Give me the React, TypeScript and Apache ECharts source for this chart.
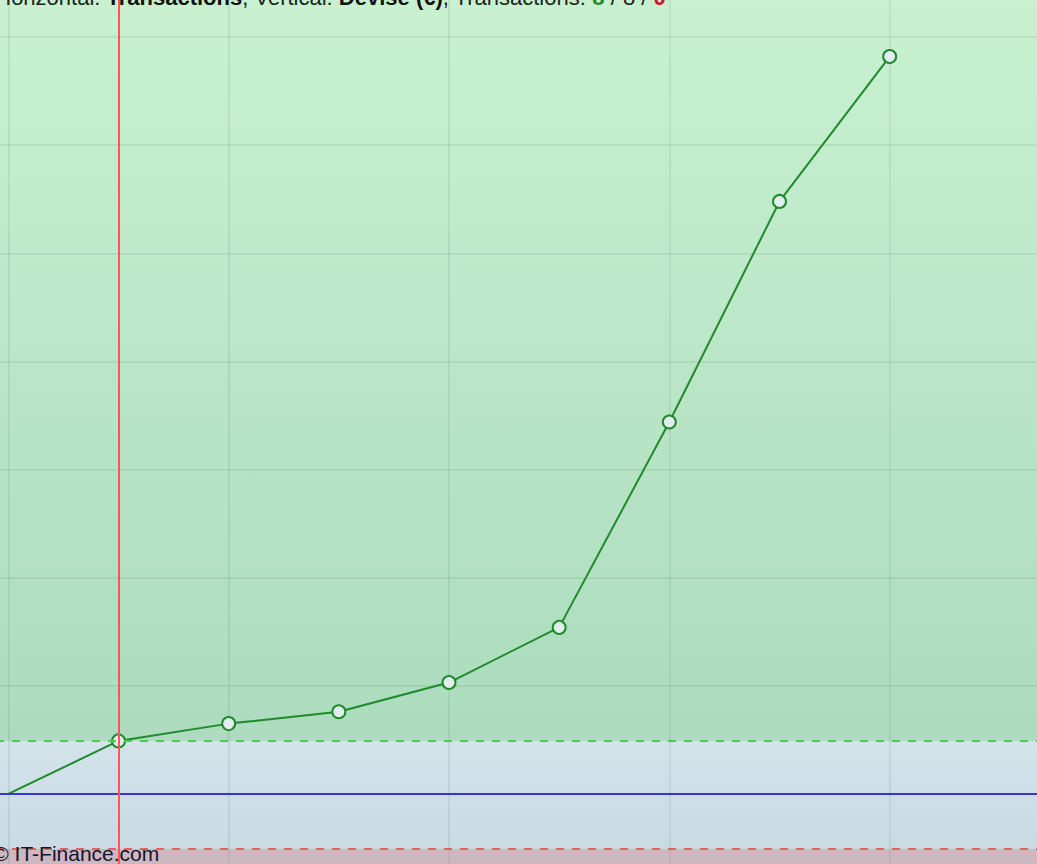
import React, { useEffect, useRef } from "react";
import * as echarts from "echarts";

const transactions = [0, 1, 2, 3, 4, 5, 6, 7, 8];
const balance = [0, 49, 65, 76, 103, 154, 344, 548, 682];
const upperLimit = 49;
const lowerLimit = -51;
const zeroLevel = 0;
const markerTransaction = 1;
const titleParts = ["Horizontal: ", "Transactions", ", Vertical: ", "Devise (€)", ", Transactions: ", "8", " / 8 / ", "0"];
const footer = "© IT-Finance.com";

// the visible window is a crop of a larger plot
const OFF_L = 212.25;
const OFF_R = 72.25;
const OFF_T = 70.8;
const OFF_B = 38.1;
const W = 1037;
const H = 864;

export default function App() {
  const ref = useRef<HTMLDivElement>(null);
  useEffect(() => {
    document.body.style.margin = "0";
    const chart = echarts.init(ref.current!, null, { renderer: "svg" });
    const font = "Arial, 'Liberation Sans', sans-serif";
    const grad = (a: string, b: string) =>
      new echarts.graphic.LinearGradient(0, 0, 0, 1, [
        { offset: 0, color: a },
        { offset: 1, color: b },
      ]);
    const fs = 22;
    chart.setOption({
      animation: false,
      grid: { left: 0, right: 0, top: 0, bottom: 0 },
      xAxis: {
        type: "value",
        min: -2,
        max: 10,
        interval: 2,
        axisLine: { show: false },
        axisTick: { show: false },
        axisLabel: { show: false },
        splitLine: { show: true, lineStyle: { color: "rgba(90,120,100,0.16)", width: 1.5 } },
      },
      yAxis: {
        type: "value",
        min: -100,
        max: 800,
        interval: 100,
        axisLine: { show: false },
        axisTick: { show: false },
        axisLabel: { show: false },
        splitLine: { show: true, lineStyle: { color: "rgba(90,120,100,0.16)", width: 1.5 } },
      },
      series: [
        {
          type: "line",
          z: -5,
          silent: true,
          symbol: "none",
          lineStyle: { opacity: 0 },
          data: transactions.map((t, i) => [t, balance[i]]),
          markArea: {
            silent: true,
            z: -10,
            data: [
              [
                { yAxis: 800, itemStyle: { color: grad("#cbf3d2", "#acdbbe") } },
                { yAxis: upperLimit },
              ],
              [
                { yAxis: upperLimit, itemStyle: { color: grad("#d2e3ea", "#c9dae3") } },
                { yAxis: lowerLimit },
              ],
              [
                { yAxis: lowerLimit, itemStyle: { color: "#cdb8bf" } },
                { yAxis: -100 },
              ],
            ],
          },
        },
        {
          type: "line",
          z: 3,
          data: transactions.map((t, i) =>
            i === 0 ? { value: [t, balance[i]], symbol: "none" } : [t, balance[i]]
          ),
          showSymbol: true,
          symbol: "circle",
          symbolSize: 13,
          lineStyle: { color: "#1f8a2a", width: 2 },
          itemStyle: { color: "#e2edf0", borderColor: "#1f8a2a", borderWidth: 2 },
          markLine: {
            silent: true,
            symbol: "none",
            label: { show: false },
            data: [
              { yAxis: upperLimit, lineStyle: { color: "#4ccb4c", type: [8, 8], width: 2 } },
              { yAxis: lowerLimit, lineStyle: { color: "#e06262", type: [8, 8], width: 2 } },
              { yAxis: zeroLevel, lineStyle: { color: "#3636d0", type: "solid", width: 2 } },
              { xAxis: markerTransaction, lineStyle: { color: "#ff5555", type: "solid", width: 2 } },
            ],
          },
        },
      ],
      graphic: [
        {
          type: "text",
          left: OFF_L - 5,
          top: OFF_T - 13,
          z: 10,
          style: {
            text: `{n|${titleParts[0]}}{b|${titleParts[1]}}{n|${titleParts[2]}}{b|${titleParts[3]}}{n|${titleParts[4]}}{g|${titleParts[5]}}{n|${titleParts[6]}}{r|${titleParts[7]}}`,
            font: `${fs}px ${font}`,
            rich: {
              n: { fontSize: fs, fontFamily: font, fill: "#222222" },
              b: { fontSize: fs, fontFamily: font, fontWeight: "bold", fill: "#111111" },
              g: { fontSize: fs, fontFamily: font, fontWeight: "bold", fill: "#1f8a2a" },
              r: { fontSize: fs, fontFamily: font, fontWeight: "bold", fill: "#cc1122" },
            },
          },
        },
        {
          type: "text",
          left: OFF_L - 7,
          top: OFF_T + H - 21,
          z: 10,
          style: { text: footer, font: `21px ${font}`, fill: "#141430" },
        },
      ],
    });
    return () => chart.dispose();
  }, []);
  return (
    <div style={{ position: "absolute", left: 0, top: 0, width: W, height: H, overflow: "hidden" }}>
      <div
        ref={ref}
        style={{
          position: "absolute",
          left: -OFF_L,
          top: -OFF_T,
          width: W + OFF_L + OFF_R,
          height: H + OFF_T + OFF_B,
        }}
      />
    </div>
  );
}
